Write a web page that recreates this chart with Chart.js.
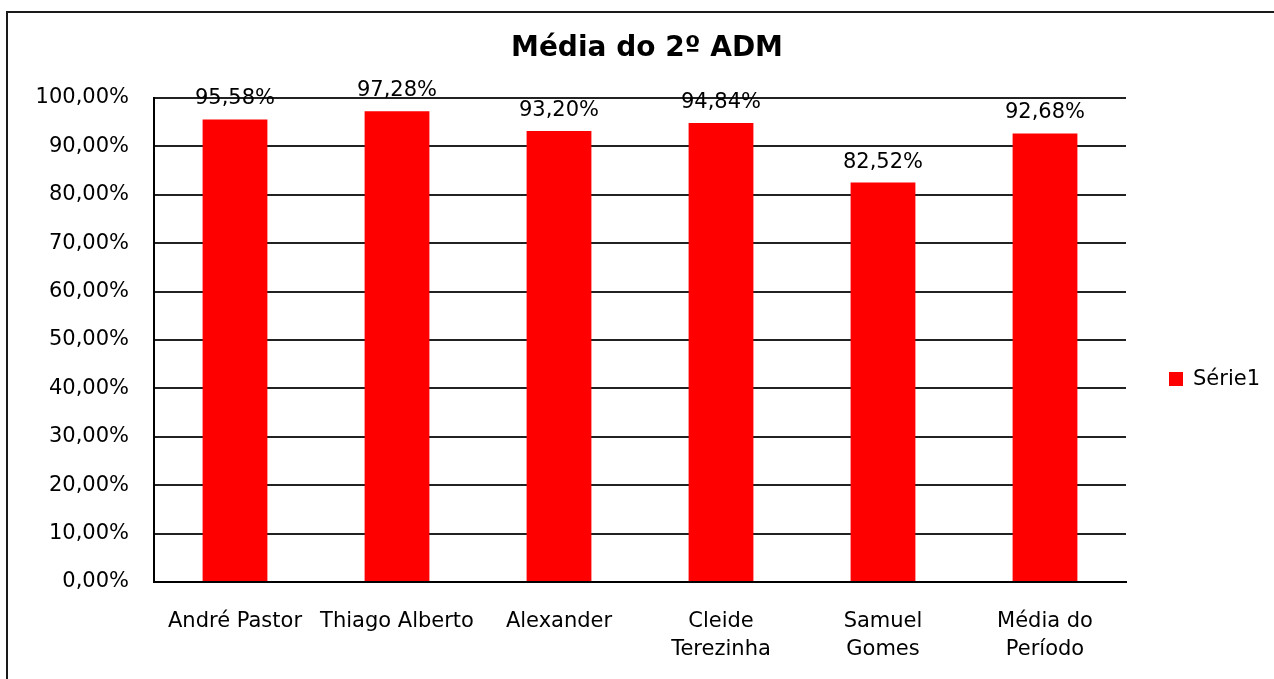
<!DOCTYPE html>
<html>
<head>
<meta charset="utf-8">
<script src="https://cdn.jsdelivr.net/npm/chart.js@4.4.1/dist/chart.umd.min.js"></script>
<style>
  html, body { margin: 0; padding: 0; background: #fff; overflow: hidden; }
  #frame { position: absolute; left: 6px; top: 11px; width: 1400px; height: 800px; border: 2px solid #1a1a1a; }
  #wrap { position: absolute; left: 0; top: 0; width: 1274px; height: 679px; }
</style>
</head>
<body>
<div id="frame"></div>
<div id="wrap"><canvas id="c" width="1274" height="679"></canvas></div>
<script>
const categories = ["André Pastor", "Thiago Alberto", "Alexander", ["Cleide", "Terezinha"], ["Samuel", "Gomes"], ["Média do", "Período"]];
const seriesName = "Série1";
const seriesValues = [95.58, 97.28, 93.20, 94.84, 82.52, 92.68];
const yTicks = [0, 10, 20, 30, 40, 50, 60, 70, 80, 90, 100];
const titleText = "Média do 2º ADM";

const FONT = "'DejaVu Sans', sans-serif";
const fmt = v => Number(v).toFixed(2).replace('.', ',') + '%';

const dataLabels = {
  id: 'dataLabels',
  afterDatasetsDraw(chart) {
    const ctx = chart.ctx;
    ctx.save();
    ctx.font = '21px ' + FONT;
    ctx.fillStyle = '#000';
    ctx.textAlign = 'center';
    ctx.textBaseline = 'alphabetic';
    chart.getDatasetMeta(0).data.forEach((bar, i) => {
      ctx.fillText(fmt(chart.data.datasets[0].data[i]), bar.x, bar.y - 15);
    });
    ctx.restore();
  }
};

const sideLegend = {
  id: 'sideLegend',
  afterDraw(chart) {
    const ctx = chart.ctx;
    const ds = chart.data.datasets[0];
    const x = chart.chartArea.right + 43;
    const y = 379;
    ctx.save();
    ctx.fillStyle = ds.backgroundColor;
    ctx.fillRect(x, y - 7, 14, 14);
    ctx.fillStyle = '#000';
    ctx.font = '21px ' + FONT;
    ctx.textAlign = 'left';
    ctx.textBaseline = 'middle';
    ctx.fillText(ds.label, x + 24, y + 1);
    ctx.restore();
  }
};

new Chart(document.getElementById('c'), {
  type: 'bar',
  data: {
    labels: categories,
    datasets: [{
      label: seriesName,
      data: seriesValues,
      backgroundColor: '#ff0000',
      borderWidth: 0,
      barPercentage: 0.4,
      categoryPercentage: 1.0
    }]
  },
  options: {
    responsive: false,
    animation: false,
    devicePixelRatio: 1,
    layout: { padding: { left: 20, right: 0, top: 0, bottom: 0 } },
    plugins: {
      legend: { display: false },
      tooltip: { enabled: false },
      title: {
        display: true,
        text: titleText,
        color: '#000',
        font: { family: FONT, size: 28, weight: 'bold', lineHeight: 1.2 },
        padding: { top: 32, bottom: 32.4 }
      }
    },
    scales: {
      x: {
        grid: { display: false, drawTicks: false },
        border: { display: true, color: '#000', width: 2 },
        ticks: {
          color: '#000',
          font: { family: FONT, size: 21, lineHeight: 28 / 21 },
          padding: 26,
          maxRotation: 0,
          minRotation: 0,
          autoSkip: false
        },
        afterFit(s) { s.height = 97; }
      },
      y: {
        min: 0,
        max: 100,
        afterBuildTicks(s) { s.ticks = yTicks.map(v => ({ value: v })); },
        grid: { color: '#222', lineWidth: 2, drawTicks: false },
        border: { display: true, color: '#000', width: 2 },
        ticks: {
          color: '#000',
          font: { family: FONT, size: 21 },
          padding: 25,
          callback: v => fmt(v)
        },
        afterFit(s) { s.width = 134; }
      },
      y2: {
        position: 'right',
        display: true,
        grid: { display: false, drawTicks: false },
        border: { display: false },
        ticks: { display: false },
        afterFit(s) { s.width = 148; }
      }
    }
  },
  plugins: [dataLabels, sideLegend]
});
</script>
</body>
</html>
